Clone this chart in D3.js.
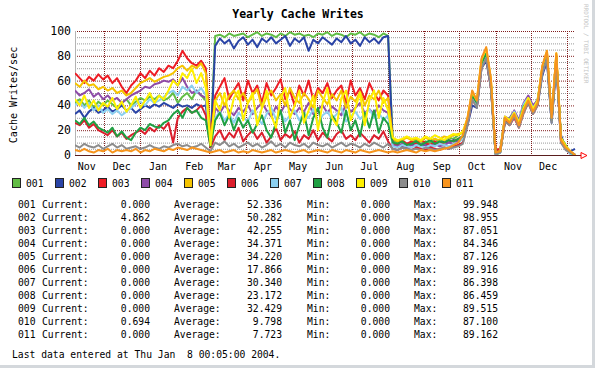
<html>
  <head>
    <meta charset="utf-8" />
    <script src="https://d3js.org/d3.v7.min.js"></script>
    <style>
      body {
        margin: 0;
        background: #ffffff;
      }

      svg text {
        font-family: "DejaVu Sans Mono", monospace;
      }
    </style>
  </head>

  <body>
    <svg id="chart" width="595" height="368"></svg>
    <script>
      // samples every 4 days, starting Nov 6 2002
      var startDate = new Date(2002, 10, 6);
      var endDate = new Date(2004, 0, 8, 0, 5);
      var stepDays = 4;

      var names = ["001", "002", "003", "004", "005", "006", "007", "008", "009", "010", "011"];
      var colors = ["#62bd45", "#2a44a6", "#ee1c24", "#8e4ca8", "#f5c400", "#dc1e2c",
                    "#8cd0f0", "#1fa043", "#fff000", "#8c8c8c", "#f7941d"];

      var s001 = [42, 45, 40, 44, 38, 43, 40, 44, 41, 38, 42, 45,
                  40, 43, 46, 44, 47, 45, 48, 44, 46, 50, 42, 47,
                  50, 45, 52, 48, 44, 10, 96, 97, 95, 98, 96, 97,
                  98, 95, 97, 99, 96, 98, 97, 95, 98, 96, 99, 97,
                  98, 96, 97, 95, 98, 97, 99, 96, 98, 97, 95, 98,
                  97, 99, 96, 98, 97, 95, 98, 96, 12, 10, 11, 9,
                  10, 12, 9, 11, 10, 13, 11, 12, 14, 13, 16, 18,
                  28, 48, 40, 74, 82, 58, 0, 2, 28, 30, 35, 27,
                  40, 46, 38, 45, 68, 80, 28, 76, 14, 8, 2, 0];
      var s002 = [33, 36, 30, 35, 38, 34, 36, 39, 35, 37, 40, 36,
                  38, 34, 37, 40, 38, 41, 39, 42, 40, 38, 41, 39,
                  40, 38, 41, 39, 40, 7, 88, 94, 90, 93, 86, 92,
                  95, 89, 93, 87, 94, 91, 95, 90, 93, 96, 88, 94,
                  91, 95, 84, 93, 90, 95, 92, 89, 94, 91, 96, 90,
                  93, 88, 95, 91, 94, 90, 95, 96, 9, 8, 7, 9,
                  8, 10, 7, 9, 8, 10, 9, 11, 10, 12, 11, 13,
                  24, 40, 38, 70, 76, 55, 1, 3, 26, 28, 31, 26,
                  38, 43, 36, 40, 64, 76, 26, 72, 16, 5, 3, 4.862];
      var s003 = [66, 62, 58, 63, 60, 65, 61, 64, 58, 62, 55, 50,
                  56, 60, 66, 62, 68, 64, 70, 67, 72, 70, 76, 84,
                  78, 74, 72, 76, 70, 12, 48, 55, 62, 45, 52, 58,
                  44, 60, 50, 56, 42, 58, 48, 54, 61, 45, 52, 40,
                  56, 48, 60, 44, 54, 50, 58, 46, 52, 56, 42, 60,
                  48, 54, 45, 58, 50, 44, 52, 48, 10, 8, 12, 9,
                  11, 9, 12, 10, 8, 11, 9, 10, 12, 11, 13, 15,
                  26, 46, 40, 72, 80, 56, 4, 5, 28, 24, 30, 22,
                  34, 42, 33, 40, 70, 82, 28, 80, 10, 6, 2, 0];
      var s004 = [52, 48, 50, 53, 47, 50, 45, 48, 44, 46, 42, 45,
                  48, 50, 52, 55, 54, 57, 58, 60, 59, 61, 56, 62,
                  55, 50, 52, 48, 46, 8, 38, 34, 40, 36, 32, 38,
                  35, 40, 33, 38, 42, 36, 31, 39, 34, 41, 37, 33,
                  38, 35, 42, 33, 37, 40, 34, 39, 36, 32, 41, 35,
                  38, 42, 34, 37, 33, 40, 36, 34, 8, 7, 9, 6,
                  8, 7, 9, 8, 6, 9, 7, 8, 10, 9, 11, 14,
                  27, 47, 41, 73, 80, 57, 1, 2, 31, 29, 36, 28,
                  42, 48, 40, 44, 66, 78, 27, 74, 11, 5, 1, 0];
      var s005 = [58, 55, 60, 56, 57, 53, 55, 52, 54, 50, 52, 48,
                  50, 54, 58, 60, 62, 59, 61, 63, 64, 66, 70, 72,
                  68, 72, 70, 74, 66, 10, 44, 50, 40, 48, 52, 45,
                  50, 42, 48, 53, 38, 47, 52, 44, 49, 40, 54, 46,
                  42, 50, 45, 38, 52, 46, 41, 49, 44, 52, 38, 47,
                  43, 51, 40, 48, 45, 52, 42, 46, 13, 11, 12, 14,
                  12, 13, 11, 14, 12, 13, 12, 15, 14, 16, 17, 18,
                  29, 50, 43, 76, 85, 60, 2, 3, 29, 27, 34, 25,
                  37, 45, 36, 43, 71, 83, 29, 81, 13, 7, 3, 0];
      var s006 = [26, 24, 28, 22, 25, 20, 18, 16, 20, 15, 18, 13,
                  16, 18, 20, 17, 22, 19, 24, 21, 26, 10, 30, 35,
                  38, 34, 36, 40, 32, 6, 15, 20, 12, 18, 14, 22,
                  11, 16, 20, 13, 18, 10, 15, 22, 12, 17, 14, 19,
                  10, 16, 13, 20, 12, 18, 14, 11, 17, 20, 13, 16,
                  12, 18, 14, 10, 16, 13, 19, 11, 5, 4, 6, 5,
                  4, 6, 5, 4, 6, 5, 4, 6, 5, 7, 8, 10,
                  25, 45, 39, 71, 79, 54, 5, 3, 27, 25, 32, 23,
                  35, 43, 34, 41, 69, 81, 28, 79, 12, 6, 2, 0];
      var s007 = [40, 43, 38, 42, 36, 40, 34, 37, 33, 36, 32, 35,
                  38, 41, 43, 40, 45, 42, 44, 47, 50, 52, 48, 55,
                  52, 56, 50, 54, 48, 9, 30, 35, 28, 33, 26, 34,
                  30, 27, 36, 31, 25, 33, 38, 29, 34, 27, 32, 36,
                  28, 34, 30, 37, 26, 32, 35, 29, 33, 38, 27, 31,
                  35, 29, 33, 37, 30, 34, 28, 32, 7, 6, 8, 7,
                  6, 8, 7, 6, 8, 7, 9, 8, 7, 9, 10, 13,
                  26, 47, 40, 72, 81, 56, 1, 2, 30, 28, 35, 26,
                  41, 46, 38, 43, 67, 79, 27, 75, 12, 5, 1, 0];
      var s008 = [28, 25, 30, 24, 27, 22, 20, 18, 22, 15, 19, 14,
                  12, 18, 22, 20, 25, 23, 22, 26, 28, 33, 36, 30,
                  38, 34, 36, 30, 28, 7, 28, 34, 24, 32, 20, 30,
                  22, 28, 18, 25, 32, 20, 14, 26, 36, 18, 28, 12,
                  24, 34, 16, 30, 38, 22, 14, 32, 26, 18, 36, 20,
                  28, 15, 34, 22, 36, 18, 30, 25, 10, 9, 11, 8,
                  9, 11, 8, 10, 12, 9, 11, 10, 12, 11, 13, 15,
                  28, 48, 42, 74, 82, 58, 2, 3, 30, 28, 33, 25,
                  39, 44, 36, 42, 68, 80, 28, 78, 13, 6, 2, 0];
      var s009 = [45, 40, 48, 38, 44, 36, 42, 39, 46, 37, 43, 35,
                  40, 47, 38, 44, 50, 42, 48, 45, 52, 60, 56, 66,
                  62, 70, 58, 66, 54, 8, 44, 36, 50, 30, 46, 52,
                  28, 42, 50, 24, 38, 52, 32, 22, 46, 54, 30, 40,
                  52, 26, 36, 48, 20, 42, 54, 30, 24, 46, 52, 28,
                  38, 50, 24, 44, 52, 30, 46, 36, 14, 12, 13, 15,
                  13, 14, 12, 15, 13, 16, 14, 12, 15, 17, 16, 19,
                  30, 51, 44, 77, 86, 61, 2, 3, 31, 28, 34, 26,
                  38, 46, 37, 44, 71, 84, 30, 82, 14, 7, 3, 0];
      var s010 = [8, 6, 9, 7, 6, 8, 5, 7, 9, 6, 8, 5,
                  6, 7, 5, 6, 8, 6, 5, 7, 6, 8, 9, 7,
                  8, 6, 7, 9, 6, 3, 10, 8, 11, 7, 9, 6,
                  8, 10, 7, 9, 6, 8, 11, 7, 9, 6, 10, 8,
                  7, 9, 6, 10, 8, 7, 9, 6, 8, 10, 7, 9,
                  8, 6, 9, 7, 10, 8, 6, 9, 5, 4, 6, 5,
                  4, 5, 4, 6, 5, 4, 5, 6, 5, 6, 7, 9,
                  24, 45, 38, 70, 78, 54, 1, 2, 27, 24, 31, 22,
                  34, 42, 33, 40, 66, 78, 26, 76, 10, 4, 2, 0.694];
      var s011 = [4, 3, 5, 3, 2, 4, 3, 5, 2, 4, 3, 4,
                  3, 5, 2, 4, 3, 5, 4, 3, 5, 4, 6, 5,
                  4, 6, 5, 4, 3, 2, 3, 4, 2, 3, 4, 2,
                  3, 2, 4, 3, 2, 3, 4, 2, 3, 4, 3, 2,
                  3, 4, 2, 3, 4, 3, 2, 4, 3, 2, 4, 3,
                  2, 4, 3, 2, 3, 4, 3, 2, 3, 2, 3, 4,
                  3, 2, 4, 3, 4, 3, 4, 5, 6, 8, 10, 16,
                  30, 52, 44, 78, 87, 62, 2, 3, 30, 26, 33, 24,
                  36, 44, 35, 42, 72, 84, 30, 82, 12, 6, 3, 0];

      var current = ["0.000", "4.862", "0.000", "0.000", "0.000", "0.000", "0.000", "0.000", "0.000", "0.694", "0.000"];
      var average = ["52.336", "50.282", "42.255", "34.371", "34.220", "17.866", "30.340", "23.172", "32.429", "9.798", "7.723"];
      var minimum = ["0.000", "0.000", "0.000", "0.000", "0.000", "0.000", "0.000", "0.000", "0.000", "0.000", "0.000"];
      var maximum = ["99.948", "98.955", "87.051", "84.346", "87.126", "89.916", "86.398", "86.459", "89.515", "87.100", "89.162"];

      var yTicks = [0, 20, 40, 60, 80, 100];
      var yMinor = [5, 10, 15, 25, 30, 35, 45, 50, 55, 65, 70, 75, 85, 90, 95];

      var series = [s001, s002, s003, s004, s005, s006, s007, s008, s009, s010, s011];

      var svg = d3.select("#chart");
      var plot = { left: 75, right: 575, top: 31, bottom: 155 };

      var x = d3.scaleTime().domain([startDate, endDate]).range([plot.left, plot.right]);
      var y = d3.scaleLinear().domain([0, 100]).range([plot.bottom, plot.top]);

      // frame strips on right and bottom
      svg.append("rect").attr("x", 592).attr("y", 0).attr("width", 3).attr("height", 368).attr("fill", "#d4d8dc");
      svg.append("rect").attr("x", 0).attr("y", 365).attr("width", 595).attr("height", 3).attr("fill", "#d4d8dc");

      svg.append("text")
        .attr("x", 298).attr("y", 18)
        .attr("text-anchor", "middle")
        .style("font-size", "11.5px").style("font-weight", "bold")
        .text("Yearly Cache Writes");

      svg.append("text")
        .attr("transform", "translate(16.5,95) rotate(-90)")
        .attr("text-anchor", "middle")
        .style("font-size", "10px")
        .text("Cache Writes/sec");

      svg.append("text")
        .attr("transform", "translate(584,4) rotate(90)")
        .style("font-size", "6px").attr("fill", "#c4c4c4")
        .text("RRDTOOL / TOBI OETIKER");

      // grid
      var grid = svg.append("g");
      grid.selectAll(".minor").data(yMinor).enter().append("line")
        .attr("x1", plot.left).attr("x2", plot.right)
        .attr("y1", (d) => y(d) + 0.5).attr("y2", (d) => y(d) + 0.5)
        .attr("stroke", "#9a9a9a").attr("stroke-dasharray", "1,1");

      var months = d3.timeMonth.range(d3.timeMonth.ceil(startDate), endDate);
      grid.selectAll(".vmajor").data(months).enter().append("line")
        .attr("x1", (d) => Math.round(x(d)) + 0.5).attr("x2", (d) => Math.round(x(d)) + 0.5)
        .attr("y1", plot.top).attr("y2", plot.bottom)
        .attr("stroke", "#821e1e").attr("stroke-dasharray", "1,1");

      grid.selectAll(".major").data(yTicks.filter((d) => d > 0)).enter().append("line")
        .attr("x1", plot.left).attr("x2", plot.right)
        .attr("y1", (d) => y(d) + 0.5).attr("y2", (d) => y(d) + 0.5)
        .attr("stroke", "#821e1e").attr("stroke-dasharray", "1,1");

      grid.append("line")
        .attr("x1", plot.left + 0.5).attr("x2", plot.left + 0.5)
        .attr("y1", plot.top).attr("y2", plot.bottom)
        .attr("stroke", "#b4b4b4");

      svg.append("clipPath").attr("id", "clip").append("rect")
        .attr("x", plot.left).attr("y", plot.top - 2)
        .attr("width", plot.right - plot.left + 1).attr("height", plot.bottom - plot.top + 2);

      var line = d3.line()
        .x((d, i) => x(d3.timeDay.offset(startDate, i * stepDays)))
        .y((d) => y(d));

      svg.append("g").attr("clip-path", "url(#clip)")
        .selectAll("path").data(series).enter().append("path")
        .attr("d", line)
        .attr("fill", "none")
        .attr("stroke", (d, i) => colors[i])
        .attr("stroke-width", 2)
        .attr("stroke-linejoin", "round");

      // x axis with arrow
      svg.append("line")
        .attr("x1", plot.left).attr("x2", 581)
        .attr("y1", plot.bottom + 0.5).attr("y2", plot.bottom + 0.5)
        .attr("stroke", "#5a1e1e");
      svg.append("path")
        .attr("d", "M581,152.5 L587,155.5 L581,158.5 Z")
        .attr("fill", "none").attr("stroke", "#ff0000");

      svg.selectAll(".ylab").data(yTicks).enter().append("text")
        .attr("x", 71).attr("y", (d) => y(d) + 4)
        .attr("text-anchor", "end")
        .style("font-size", "11.5px")
        .text((d) => d);

      var labelMonths = d3.timeMonth.range(d3.timeMonth.floor(startDate), d3.timeMonth.floor(endDate));
      svg.selectAll(".xlab").data(labelMonths).enter().append("text")
        .attr("x", (d) => x(d3.timeDay.offset(d, 15)))
        .attr("y", 170)
        .attr("text-anchor", "middle")
        .style("font-size", "10px")
        .text((d) => d3.timeFormat("%b")(d));

      // legend
      var legend = svg.selectAll(".leg").data(names).enter().append("g")
        .attr("transform", (d, i) => "translate(" + (12 + i * 43) + ",178)");
      legend.append("rect")
        .attr("x", 0.5).attr("y", 0.5).attr("width", 8).attr("height", 9)
        .attr("fill", (d, i) => colors[i]).attr("stroke", "#222");
      legend.append("text")
        .attr("x", 14).attr("y", 9)
        .style("font-size", "9.7px")
        .text((d) => d);

      // statistics rows
      var rows = svg.selectAll(".row").data(names).enter().append("g")
        .attr("transform", (d, i) => "translate(0," + (207.7 + i * 13) + ")")
        .style("font-size", "9.7px");
      rows.append("text").attr("x", 18).text((d) => d);
      rows.append("text").attr("x", 42).text("Current:");
      rows.append("text").attr("x", 150).attr("text-anchor", "end").text((d, i) => current[i]);
      rows.append("text").attr("x", 174).text("Average:");
      rows.append("text").attr("x", 282).attr("text-anchor", "end").text((d, i) => average[i]);
      rows.append("text").attr("x", 307).text("Min:");
      rows.append("text").attr("x", 390).attr("text-anchor", "end").text((d, i) => minimum[i]);
      rows.append("text").attr("x", 414).text("Max:");
      rows.append("text").attr("x", 498).attr("text-anchor", "end").text((d, i) => maximum[i]);

      svg.append("text")
        .attr("x", 12).attr("y", 357.7)
        .style("font-size", "9.7px").style("white-space", "pre")
        .text("Last data entered at Thu Jan  8 00:05:00 2004.");
    </script>
  </body>
</html>
